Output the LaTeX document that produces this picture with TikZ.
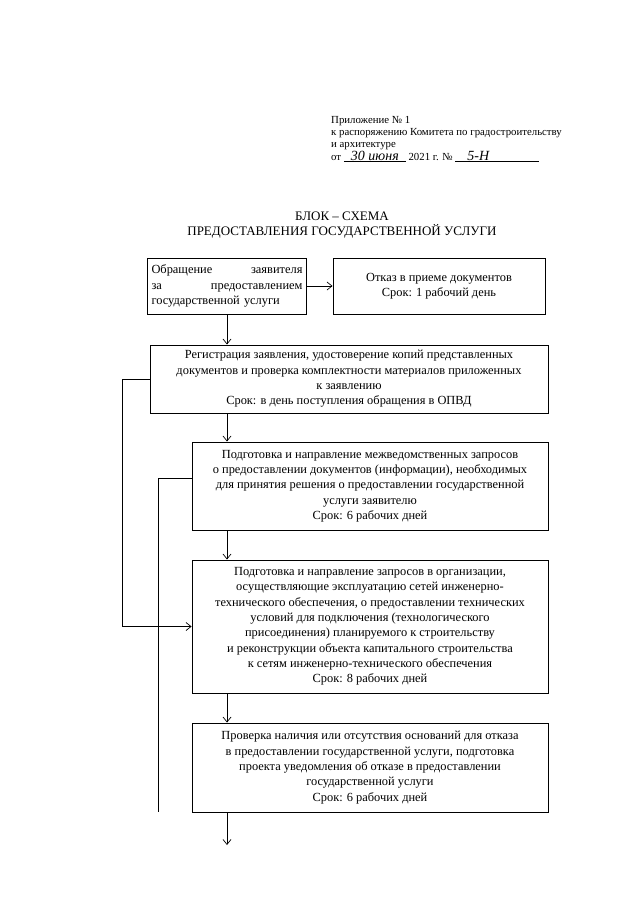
\documentclass[tikz,border=0pt]{standalone}
\usepackage{fontspec}
\setmainfont{Liberation Serif}
\usetikzlibrary{arrows.meta}
\newcommand{\blokfont}{\fontsize{12.4}{15.3}\selectfont}
\newcommand{\titlefont}{\fontsize{13}{15.8}\selectfont}
\newcommand{\shapkafont}{\fontsize{10.8}{12.3}\selectfont}
\newcommand{\ruka}{\fontsize{14}{14}\selectfont\itshape}
\begin{document}
\begin{tikzpicture}
	[x=1pt,y=-1pt,
	 blok/.style={draw,line width=0.9pt,inner xsep=4pt,inner ysep=2pt,align=center,font=\blokfont},
	 shapka/.style={anchor=base west,inner sep=0pt,font=\shapkafont},
	 >={Straight Barb[length=5pt,width=8pt]}]
	\useasboundingbox (0,0) rectangle (640,905);
	% шапка
	\node[shapka,name=h1] at (331,123) {Приложение № 1};
	\node[shapka,name=h2] at (331,135) {к распоряжению Комитета по градостроительству};
	\node[shapka,name=h3] at (331,147) {и архитектуре};
	\node[shapka,name=h4] at (331,160) {от \underline{\makebox[62pt]{\ruka 30 июня}} 2021 г. № \underline{\makebox[84pt][l]{\hspace{12pt}\ruka 5-Н}}};
	% заголовок
	\node[font=\titlefont,align=center,name=title] at (342,225) {БЛОК – СХЕМА\\ПРЕДОСТАВЛЕНИЯ ГОСУДАРСТВЕННОЙ УСЛУГИ};
	% блоки
	\node[blok,name=obr,text width=151pt,minimum height=56pt,align=left] at (227,286)
		{Обращение\hfill заявителя\\ за\hfill предоставлением\\ государственной услуги};
	\node[blok,name=otkaz,minimum width=212pt,minimum height=56pt] at (439,286)
		{Отказ в приеме документов\\ Срок: 1 рабочий день};
	\node[blok,name=reg,minimum width=398pt,minimum height=68pt] at (349,379)
		{Регистрация заявления, удостоверение копий представленных\\ документов и проверка комплектности материалов приложенных\\ к заявлению\\ Срок: в день поступления обращения в ОПВД};
	\node[blok,name=mezh,minimum width=356pt,minimum height=88pt] at (370,486)
		{Подготовка и направление межведомственных запросов\\ о предоставлении документов (информации), необходимых\\ для принятия решения о предоставлении государственной\\ услуги заявителю\\ Срок: 6 рабочих дней};
	\node[blok,name=tehn,minimum width=356pt,minimum height=133pt] at (370,626.5)
		{Подготовка и направление запросов в организации,\\ осуществляющие эксплуатацию сетей инженерно-\\ технического обеспечения, о предоставлении технических\\ условий для подключения (технологического\\ присоединения) планируемого к строительству\\ и реконструкции объекта капитального строительства\\ к сетям инженерно-технического обеспечения\\ Срок: 8 рабочих дней};
	\node[blok,name=prov,minimum width=356pt,minimum height=89pt] at (370,767.5)
		{Проверка наличия или отсутствия оснований для отказа\\ в предоставлении государственной услуги, подготовка\\ проекта уведомления об отказе в предоставлении\\ государственной услуги\\ Срок: 6 рабочих дней};
	% стрелки
	\coordinate (dalee) at (227,845);
	\coordinate (obhod) at (158,812);
	\draw[->,line width=0.7pt] (obr) -- (otkaz);
	\draw[->,line width=0.7pt] (obr.south) -- (obr.south |- reg.north);
	\draw[->,line width=0.7pt] (obr.south |- reg.south) -- (obr.south |- mezh.north);
	\draw[->,line width=0.7pt] (obr.south |- mezh.south) -- (obr.south |- tehn.north);
	\draw[->,line width=0.7pt] (obr.south |- tehn.south) -- (obr.south |- prov.north);
	\draw[->,line width=0.7pt] (obr.south |- prov.south) -- (dalee);
	\draw[->,line width=0.7pt] (reg.west) -- ++(-27,0) |- (tehn.west);
	\draw[line width=0.7pt] ([yshift=8pt]mezh.west) -| (obhod);
\end{tikzpicture}
\end{document}
